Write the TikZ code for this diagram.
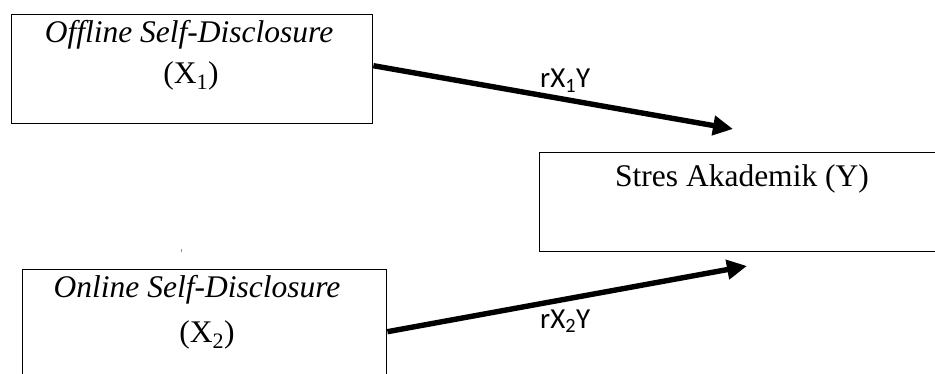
\documentclass[tikz,border=0pt]{standalone}
\usepackage{fontspec}
\setmainfont{Liberation Serif}
\newfontfamily\labelfont{Carlito}
\usetikzlibrary{arrows.meta}
\begin{document}
\begin{tikzpicture}[x=1pt,y=-1pt,
  varbox/.style={draw=black,line width=1.4pt,rectangle,inner sep=0pt,anchor=north west},
  boxtext/.style={font=\fontsize{31.5}{38}\selectfont,inner sep=0pt,anchor=base},
  pathlabel/.style={font=\labelfont\fontsize{29}{34}\selectfont,inner sep=0pt,anchor=base west},
  effect/.style={line width=5.4pt,-{Triangle[length=20pt,width=19pt]}}]
  \useasboundingbox (0,0) rectangle (935,374);
  \clip (0,0) rectangle (935,374);
  \fill[white] (0,0) rectangle (935,374);

  % variable boxes
  \node[varbox,minimum width=361pt,minimum height=109pt] (x1box) at (11,14) {};
  \node[varbox,minimum width=364pt,minimum height=124pt] (x2box) at (22,269) {};
  \node[varbox,minimum width=410pt,minimum height=99pt] (ybox) at (539,152) {};

  % box labels
  \node[boxtext] (x1name) at (189,43) {\itshape Offline Self-Disclosure};
  \node[boxtext] (x1sym) at (191,84) {(X\textsubscript{1})};
  \node[boxtext] (x2name) at (197,298) {\itshape Online Self-Disclosure};
  \node[boxtext] (x2sym) at (207,342) {(X\textsubscript{2})};
  \node[boxtext] (yname) at (742,187) {Stres Akademik (Y)};

  % small mark left on the page
  \fill[black!45] (181,249) rectangle (182,252.5);

  % arrow end points
  \coordinate (t1) at (733,129);
  \coordinate (t2) at (747,266);

  % correlation paths
  \draw[effect] ([yshift=3.5pt]x1box.east) -- (t1);
  \draw[effect] (x2box.east) -- (t2);

  \node[pathlabel] (r1) at (540,88) {rX\textsubscript{1}Y};
  \node[pathlabel] (r2) at (540,328) {rX\textsubscript{2}Y};
\end{tikzpicture}
\end{document}
